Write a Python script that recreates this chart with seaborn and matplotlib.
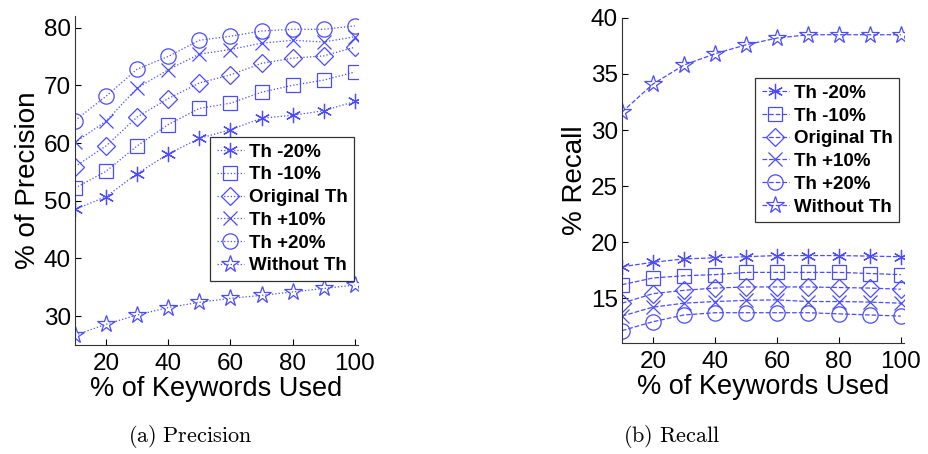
import numpy as np
import pandas as pd
import matplotlib
matplotlib.use('Agg')
import matplotlib.pyplot as plt
import seaborn as sns

# Data
keywords = [10, 20, 30, 40, 50, 60, 70, 80, 90, 100]
series_names = ['Th -20%', 'Th -10%', 'Original Th', 'Th +10%', 'Th +20%', 'Without Th']

prec_m20 = [48.5, 50.7, 54.7, 58.1, 60.8, 62.3, 64.3, 64.8, 65.6, 67.2]
prec_m10 = [52.2, 55.1, 59.5, 63.2, 66.0, 66.9, 68.8, 70.0, 70.9, 72.3]
prec_orig = [55.9, 59.5, 64.5, 67.7, 70.4, 71.8, 73.8, 74.7, 75.1, 76.6]
prec_p10 = [60.1, 63.8, 69.5, 72.7, 75.4, 76.2, 77.3, 77.8, 77.5, 78.4]
prec_p20 = [63.9, 68.1, 72.8, 75.0, 77.8, 78.5, 79.4, 79.7, 79.7, 80.3]
prec_none = [26.7, 28.6, 30.2, 31.5, 32.4, 33.1, 33.6, 34.2, 34.8, 35.4]

rec_m20 = [17.8, 18.2, 18.5, 18.6, 18.7, 18.8, 18.8, 18.8, 18.75, 18.7]
rec_m10 = [16.2, 16.8, 17.0, 17.1, 17.3, 17.3, 17.3, 17.3, 17.2, 17.1]
rec_orig = [14.55, 15.4, 15.7, 15.9, 16.0, 16.0, 16.0, 15.95, 15.9, 15.8]
rec_p10 = [13.4, 14.2, 14.55, 14.7, 14.8, 14.85, 14.7, 14.7, 14.65, 14.55]
rec_p20 = [12.1, 12.9, 13.5, 13.7, 13.7, 13.7, 13.7, 13.6, 13.5, 13.4]
rec_none = [31.6, 34.1, 35.8, 36.8, 37.6, 38.2, 38.5, 38.5, 38.5, 38.5]

precision = [prec_m20, prec_m10, prec_orig, prec_p10, prec_p20, prec_none]
recall = [rec_m20, rec_m10, rec_orig, rec_p10, rec_p20, rec_none]

markers = [(6, 2, 0), 's', 'D', 'x', 'o', '*']
msizes = [11, 10, 9, 10, 11, 13]
blue = '#4b4bff'

sns.set_style('ticks', {'text.color': 'black', 'xtick.color': 'black',
                        'ytick.color': 'black', 'axes.labelcolor': 'black'})
plt.rcParams['font.family'] = ['Liberation Sans', 'DejaVu Sans']
plt.rcParams['mathtext.fontset'] = 'cm'

fig = plt.figure(figsize=(9.29, 4.54), dpi=100)
ax1 = fig.add_axes([0.0807, 0.240, 0.3046, 0.7247])
ax2 = fig.add_axes([0.6695, 0.2445, 0.3035, 0.716])


def draw(ax, values, ls):
    for name, vals, mk, ms in zip(series_names, values, markers, msizes):
        df = pd.DataFrame({'x': keywords, 'y': vals})
        sns.lineplot(data=df, x='x', y='y', ax=ax, color=blue, linestyle=ls,
                     linewidth=0.9, marker=mk, markersize=ms, mfc='none',
                     mec=blue, mew=0.9, label=name)


draw(ax1, precision, ':')
draw(ax2, recall, '--')

for ax in (ax1, ax2):
    sns.despine(ax=ax)
    ax.set_xlim(10, 101)
    ax.set_xticks([20, 40, 60, 80, 100])
    ax.tick_params(direction='in', labelsize=17.5, length=4, width=0.8,
                   colors='black')
    ax.tick_params(axis='x', pad=5.5)
    ax.tick_params(axis='y', pad=3)
    ax.set_xlabel('% of Keywords Used', fontsize=19.5)
    for s in ax.spines.values():
        s.set_linewidth(0.8)
        s.set_color('#333333')

ax1.xaxis.set_label_coords(0.5, -0.094)
ax2.xaxis.set_label_coords(0.5, -0.095)

ax1.set_ylim(25, 82)
ax1.set_yticks([30, 40, 50, 60, 70, 80])
ax1.set_ylabel('% of Precision', fontsize=20, labelpad=2)

ax2.set_ylim(11, 40)
ax2.set_yticks([15, 20, 25, 30, 35, 40])
ax2.set_ylabel('% Recall', fontsize=20, labelpad=2)

leg_kw = dict(prop={'weight': 'bold', 'size': 13.5}, frameon=True, fancybox=False,
              edgecolor='#333333', framealpha=1, handlelength=1.45,
              handletextpad=0.25, labelspacing=0.3, borderpad=0.35,
              borderaxespad=0, loc='lower right')
l1 = ax1.legend(bbox_to_anchor=(0.986, 0.195), **leg_kw)
l2 = ax2.legend(bbox_to_anchor=(0.982, 0.372), **leg_kw)
for lg in (l1, l2):
    lg.get_frame().set_linewidth(0.9)

fig.text(190 / 929, 1 - 437 / 454, r'$\mathrm{(a)\ Precision}$', fontsize=16,
         ha='center', va='center')
fig.text(672 / 929, 1 - 437 / 454, r'$\mathrm{(b)\ Recall}$', fontsize=16,
         ha='center', va='center')

plt.savefig('out.png', dpi=100)
